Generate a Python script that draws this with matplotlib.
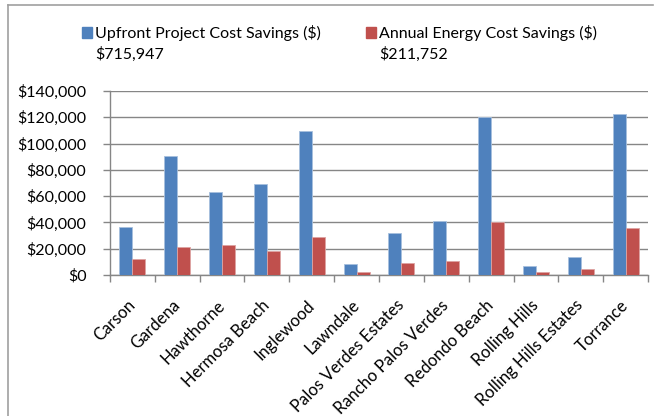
import matplotlib.pyplot as plt
import numpy as np
from matplotlib.lines import Line2D
from matplotlib.patches import Patch
from matplotlib.ticker import FuncFormatter, MultipleLocator

cities = ["Carson", "Gardena", "Hawthorne", "Hermosa Beach", "Inglewood",
          "Lawndale", "Palos Verdes Estates", "Rancho Palos Verdes",
          "Redondo Beach", "Rolling Hills", "Rolling Hills Estates", "Torrance"]
upfront = [36900, 90600, 63100, 69200, 109200, 8400, 32000, 41000,
           119900, 6900, 14000, 122200]
annual = [11900, 21400, 23100, 18300, 29200, 2000, 9200, 10700,
          40200, 2300, 4300, 36100]
series_names = ["Upfront Project Cost Savings ($)", "Annual Energy Cost Savings ($)"]
series_totals = ["$715,947", "$211,752"]

blue = "#4F81BD"
red = "#C0504D"
gray = "#868686"
plt.rcParams["font.family"] = ["Lato", "DejaVu Sans"]

W, H = 655, 416
fig = plt.figure(figsize=(W / 100, H / 100), dpi=100)
ax = fig.add_axes([110 / W, 1 - 275 / H, 538 / W, 184 / H])

x = np.arange(len(cities))
w = 0.29
ax.bar(x - w / 2, upfront, w, color=blue, edgecolor="#A7C0DE", linewidth=0.6, zorder=3)
ax.bar(x + w / 2, annual, w, color=red, edgecolor="#DDA3A2", linewidth=0.6, zorder=3)

ax.set_xlim(-0.5, len(cities) - 0.5)
ax.set_ylim(0, 140000)
ax.yaxis.set_major_locator(MultipleLocator(20000))
ax.yaxis.set_major_formatter(FuncFormatter(lambda v, p: f"${v:,.0f}"))
ax.grid(axis="y", color=gray, linewidth=1, zorder=0)

ax.set_xticks(x)
ax.set_xticklabels(cities, rotation=45, ha="right", va="center",
                   rotation_mode="anchor", fontsize=12)
ax.set_xticks(np.arange(-0.5, len(cities)), minor=True)
ax.tick_params(axis="x", which="major", length=0, pad=20)
ax.tick_params(axis="x", which="minor", length=5, color=gray, width=1)
ax.tick_params(axis="y", length=5, color=gray, width=1, labelsize=11.5, pad=12)

for s in ["top", "right"]:
    ax.spines[s].set_visible(False)
for s in ["left", "bottom"]:
    ax.spines[s].set_color(gray)
    ax.spines[s].set_linewidth(1)

# chart frame (top and left edges visible)
fig.add_artist(Line2D([8 / W, 653 / W], [1 - 5 / H, 1 - 5 / H], color="#A0A0A0", lw=1.2))
fig.add_artist(Line2D([8 / W, 8 / W], [0, 1 - 5 / H], color="#A0A0A0", lw=1.2))

handles = [Patch(color=blue), Patch(color=red)]
fig.legend(handles, series_names, loc="center left", bbox_to_anchor=(82 / W, 1 - 33 / H),
           ncol=2, frameon=False, fontsize=11.5, handlelength=0.63, handleheight=0.63,
           handletextpad=0.19, columnspacing=2.8, borderpad=0, borderaxespad=0)
fig.text(95 / W, 1 - 54 / H, series_totals[0], fontsize=11.5, va="center")
fig.text(379 / W, 1 - 54 / H, series_totals[1], fontsize=11.5, va="center")

fig.savefig("out.png", dpi=100)
plt.close(fig)
